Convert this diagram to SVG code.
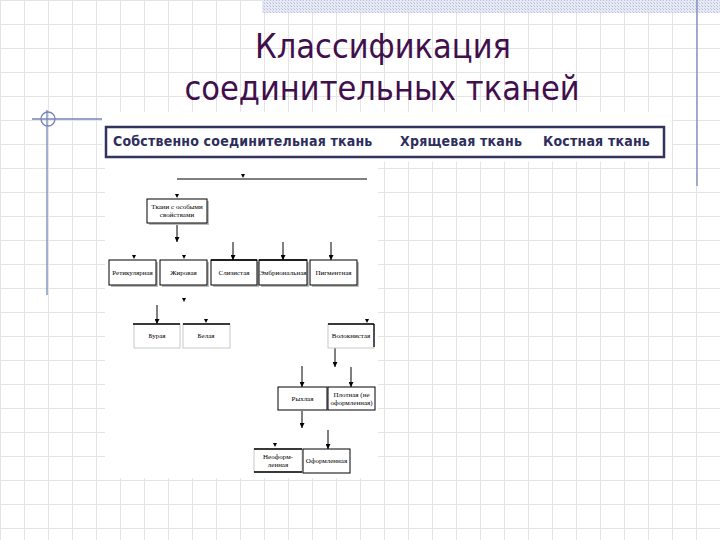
<svg xmlns="http://www.w3.org/2000/svg" xmlns:xlink="http://www.w3.org/1999/xlink" width="720" height="540" viewBox="0 0 720 540">
<defs>
<pattern id="grid" x="0" y="0" width="24" height="24" patternUnits="userSpaceOnUse">
<rect x="0" y="0" width="24" height="1" fill="#e4e4e4"/>
<rect x="0" y="0" width="1" height="24" fill="#e4e4e4"/>
</pattern>
<pattern id="hatch" x="0" y="0" width="3" height="3" patternUnits="userSpaceOnUse">
<rect width="3" height="3" fill="#e6e9f4"/>
<rect width="1" height="1" fill="#b8c0dc"/>
<rect x="2" y="2" width="1" height="1" fill="#c8cfe6"/>
</pattern>
<marker id="arr" viewBox="0 0 6 6" refX="6" refY="3" markerWidth="5" markerHeight="5" orient="auto" markerUnits="userSpaceOnUse">
<path d="M0,0 L6,3 L0,6 z" fill="#000"/>
</marker>
<path id="tip" d="M-2,-4 L2,-4 L0,0 Z" fill="#000"/>
<style>
.title{font-family:"DejaVu Sans Condensed","DejaVu Sans",sans-serif;font-size:34px;fill:#41104c;text-anchor:middle}
.hdr{font-family:"DejaVu Sans Condensed","DejaVu Sans",sans-serif;font-weight:bold;font-size:14px;letter-spacing:0.2px;fill:#2e2e5c}
.box{fill:#fff;stroke:#000;stroke-width:1}
.pbox{fill:#fff;stroke:#c8c8c8;stroke-width:1}
.shd{fill:#bcbcbc}
.top{stroke:#000;stroke-width:1.3;fill:none}
.lbl{font-family:"Liberation Serif",serif;font-size:7px;fill:#000;text-anchor:middle}
.con{stroke:#000;stroke-width:1;fill:none}
.arw{stroke:#000;stroke-width:1;fill:none;marker-end:url(#arr)}
.deco{stroke:#7584b8;stroke-width:1.3;fill:none}
</style>
</defs>
<rect width="720" height="540" fill="#fff"/>
<rect width="720" height="540" fill="url(#grid)"/>
<rect x="262" y="0" width="458" height="13" fill="url(#hatch)"/>
<g id="decoration">
<line class="deco" x1="697" y1="0" x2="697" y2="186"/>
<line class="deco" x1="32" y1="119" x2="175" y2="119"/>
<line class="deco" x1="47" y1="110" x2="47" y2="295"/>
<circle class="deco" cx="48" cy="119" r="7" stroke-width="1"/>
</g>
<g id="title">
<text class="title" x="383" y="58">Классификация</text>
<text class="title" x="382" y="100">соединительных тканей</text>
</g>
<rect x="102" y="112" width="570" height="50" fill="#fff"/>
<g id="header">
<rect x="106" y="127" width="558" height="30" fill="#fff" stroke="#33335f" stroke-width="2.5"/>
<text class="hdr" x="113" y="146">Собственно соединительная ткань</text>
<text class="hdr" x="400" y="146">Хрящевая ткань</text>
<text class="hdr" x="543" y="146">Костная ткань</text>
</g>
<rect x="105" y="160" width="273" height="318" fill="#fff"/>
<g id="connectors">
<line class="con" x1="177" y1="179" x2="367" y2="179"/>
<use xlink:href="#tip" x="243" y="178"/>
<use xlink:href="#tip" x="177" y="198"/>
<line class="arw" x1="177" y1="223" x2="177" y2="242"/>
<use xlink:href="#tip" x="134" y="259"/>
<use xlink:href="#tip" x="184" y="259"/>
<line class="arw" x1="233" y1="242" x2="233" y2="260"/>
<line class="arw" x1="283" y1="242" x2="283" y2="260"/>
<line class="arw" x1="331" y1="242" x2="331" y2="260"/>
<use xlink:href="#tip" x="184" y="302"/>
<line class="arw" x1="157" y1="305" x2="157" y2="324"/>
<use xlink:href="#tip" x="206" y="323"/>
<use xlink:href="#tip" x="367" y="323"/>
<line class="arw" x1="335" y1="348" x2="335" y2="367"/>
<line class="arw" x1="302" y1="366" x2="302" y2="387"/>
<line class="arw" x1="351" y1="367" x2="351" y2="387"/>
<line class="arw" x1="302" y1="411" x2="302" y2="428"/>
<use xlink:href="#tip" x="275" y="447"/>
<line class="arw" x1="328" y1="430" x2="328" y2="449"/>
</g>
<g id="n_special">
<rect class="shd" x="149" y="201" width="60" height="24"/>
<rect class="box" x="147" y="199" width="60" height="24"/>
<text class="lbl" x="177" y="209" font-size="6.3">Ткани с особыми</text>
<text class="lbl" x="177" y="217">свойствами</text>
</g>
<g id="n_retic">
<rect class="shd" x="111" y="262" width="47" height="25"/>
<rect class="box" x="109" y="260" width="47" height="25"/>
<text class="lbl" x="132.5" y="275">Ретикулярная</text>
</g>
<g id="n_fat">
<rect class="shd" x="162" y="262" width="47" height="25"/>
<rect class="box" x="160" y="260" width="47" height="25"/>
<text class="lbl" x="183.5" y="275">Жировая</text>
</g>
<g id="n_mucous">
<rect class="shd" x="213" y="262" width="46" height="25"/>
<rect class="box" x="211" y="260" width="46" height="25" stroke="#888"/>
<line class="top" x1="211" y1="260" x2="257" y2="260"/>
<text class="lbl" x="234" y="275">Слизистая</text>
</g>
<g id="n_embryo">
<rect class="shd" x="261" y="262" width="48" height="25"/>
<rect class="box" x="259" y="260" width="48" height="25" stroke="#999"/>
<line class="top" x1="259" y1="260" x2="307" y2="260"/>
<text class="lbl" x="283" y="275">Эмбриональная</text>
</g>
<g id="n_pigment">
<rect class="shd" x="312" y="262" width="47" height="25"/>
<rect class="box" x="310" y="260" width="47" height="25"/>
<text class="lbl" x="333.5" y="275">Пигментная</text>
</g>
<g id="n_brown">
<rect class="pbox" x="134" y="324" width="46" height="24"/>
<line class="top" x1="133" y1="324" x2="180" y2="324"/>
<text class="lbl" x="157" y="338">Бурая</text>
</g>
<g id="n_white">
<rect class="pbox" x="183" y="324" width="47" height="24"/>
<line class="top" x1="183" y1="324" x2="230" y2="324"/>
<text class="lbl" x="206" y="338">Белая</text>
</g>
<g id="n_fibrous">
<rect class="pbox" x="328" y="324" width="46" height="24"/>
<line class="top" x1="328" y1="324" x2="374" y2="324"/>
<line class="top" x1="374" y1="324" x2="374" y2="347"/>
<text class="lbl" x="351" y="338">Волокнистая</text>
</g>
<g id="n_loose">
<rect class="box" x="278" y="387" width="49" height="23"/>
<text class="lbl" x="302.5" y="401">Рыхлая</text>
</g>
<g id="n_dense">
<rect class="box" x="328" y="387" width="47" height="23"/>
<text class="lbl" x="351.5" y="397">Плотная (не</text>
<text class="lbl" x="351.5" y="405">оформленная)</text>
</g>
<g id="n_unformed">
<rect class="pbox" x="254" y="449" width="48" height="23"/>
<line class="top" x1="254" y1="449" x2="302" y2="449"/>
<line class="top" x1="254" y1="472" x2="302" y2="472"/>
<text class="lbl" x="278" y="459">Неоформ-</text>
<text class="lbl" x="278" y="467">ленная</text>
</g>
<g id="n_formed">
<rect class="box" x="303" y="449" width="47" height="24"/>
<text class="lbl" x="326.5" y="463">Оформленная</text>
</g>
</svg>
